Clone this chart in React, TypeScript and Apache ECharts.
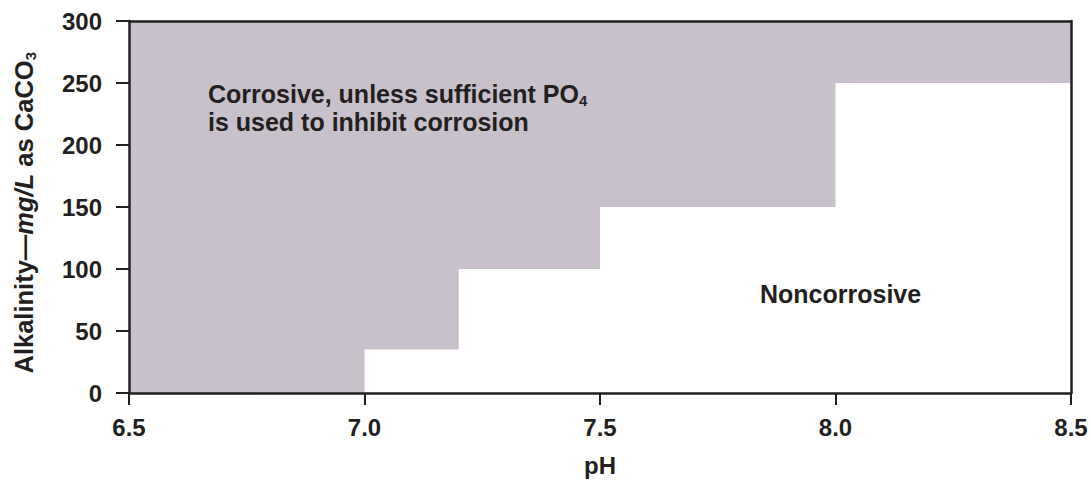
import React, { useEffect, useRef } from "react";
import * as echarts from "echarts";

// Boundary between corrosive (above) and noncorrosive (below) regions
const phBreaks = [6.5, 7.0, 7.2, 7.5, 8.0, 8.5];
const alkalinityLimit = [0, 35, 100, 150, 250, 250];

const xMin = 6.5;
const xMax = 8.5;
const xStep = 0.5;
const yMin = 0;
const yMax = 300;
const yStep = 50;

const xTitle = "pH";
const corrosiveLine1 = "Corrosive, unless sufficient PO";
const corrosiveSub = "4";
const corrosiveLine2 = "is used to inhibit corrosion";
const noncorrosiveLabel = "Noncorrosive";

const INK = "#231f20";
const FILL = "#c8c0cb";
const FONT = '"Liberation Sans", Arial, Helvetica, sans-serif';

export default function App() {
  const ref = useRef<HTMLDivElement>(null);

  useEffect(() => {
    if (!ref.current) return;
    document.body.style.margin = "0";
    document.body.style.overflow = "hidden";
    document.documentElement.style.overflow = "hidden";
    const chart = echarts.init(ref.current, undefined, { renderer: "svg", width: 1091, height: 482 });

    const data = phBreaks.map((x, i) => [x, alkalinityLimit[i]]);

    const axisLine = { show: true, onZero: false, lineStyle: { color: INK, width: 2.5 } };

    chart.setOption({
      animation: false,
      backgroundColor: "#ffffff",
      grid: { left: 129, right: 20, top: 21, bottom: 86, containLabel: false },
      xAxis: [
        {
          type: "value",
          min: xMin,
          max: xMax,
          interval: xStep,
          position: "bottom",
          z: 5,
          axisLine,
          axisTick: { show: true, inside: false, length: 12, lineStyle: { color: INK, width: 2 } },
          axisLabel: {
            color: INK,
            fontFamily: FONT,
            fontWeight: "bold",
            fontSize: 24,
            margin: 22,
            formatter: (v: number) => v.toFixed(1),
          },
          splitLine: { show: false },
          name: xTitle,
          nameLocation: "middle",
          nameGap: 60,
          nameTextStyle: { color: INK, fontFamily: FONT, fontWeight: "bold", fontSize: 24 },
        },
        {
          type: "value",
          min: xMin,
          max: xMax,
          interval: xStep,
          position: "top",
          z: 5,
          axisLine,
          axisTick: { show: false },
          axisLabel: { show: false },
          splitLine: { show: false },
        },
      ],
      yAxis: [
        {
          type: "value",
          min: yMin,
          max: yMax,
          interval: yStep,
          position: "left",
          z: 5,
          axisLine,
          axisTick: { show: true, inside: false, length: 13, lineStyle: { color: INK, width: 2 } },
          axisLabel: {
            color: INK,
            fontFamily: FONT,
            fontWeight: "bold",
            fontSize: 24,
            margin: 27,
          },
          splitLine: { show: false },
        },
        {
          type: "value",
          min: yMin,
          max: yMax,
          interval: yStep,
          position: "right",
          z: 5,
          axisLine,
          axisTick: { show: false },
          axisLabel: { show: false },
          splitLine: { show: false },
        },
      ],
      series: [
        {
          type: "line",
          data,
          step: "end",
          symbol: "none",
          z: 2,
          lineStyle: { width: 0, opacity: 0 },
          areaStyle: { color: FILL, opacity: 1, origin: "end" },
          silent: true,
        },
      ],
      graphic: [
        {
          type: "text",
          left: 11,
          top: 52,
          z: 20,
          rotation: Math.PI / 2,
          style: {
            text: "{a|Alkalinity—}{i|mg/L}{a| as CaCO}{s|3}",
            fill: INK,
            rich: {
              a: { fontFamily: FONT, fontWeight: "bold", fontSize: 25.5, lineHeight: 28, fill: INK },
              i: { fontFamily: FONT, fontWeight: "bold", fontStyle: "italic", fontSize: 25.5, lineHeight: 28, fill: INK },
              s: { fontFamily: FONT, fontWeight: "bold", fontSize: 15, lineHeight: 10, verticalAlign: "bottom", fill: INK },
            },
          },
        },
        {
          type: "text",
          x: 208,
          y: 80,
          z: 20,
          style: {
            text: `{a|${corrosiveLine1}}{s|${corrosiveSub}}\n{a|${corrosiveLine2}}`,
            fill: INK,
            rich: {
              a: { fontFamily: FONT, fontWeight: "bold", fontSize: 25, lineHeight: 28, fill: INK },
              s: { fontFamily: FONT, fontWeight: "bold", fontSize: 15, lineHeight: 10, verticalAlign: "bottom", fill: INK },
            },
          },
        },
        {
          type: "text",
          x: 760,
          y: 294,
          z: 20,
          style: {
            text: noncorrosiveLabel,
            fill: INK,
            fontFamily: FONT,
            fontWeight: "bold",
            fontSize: 25,
            verticalAlign: "middle",
          },
        },
      ],
    });

    return () => chart.dispose();
  }, []);

  return <div ref={ref} style={{ width: 1091, height: 482, position: "absolute", left: 0, top: 0 }} />;
}
